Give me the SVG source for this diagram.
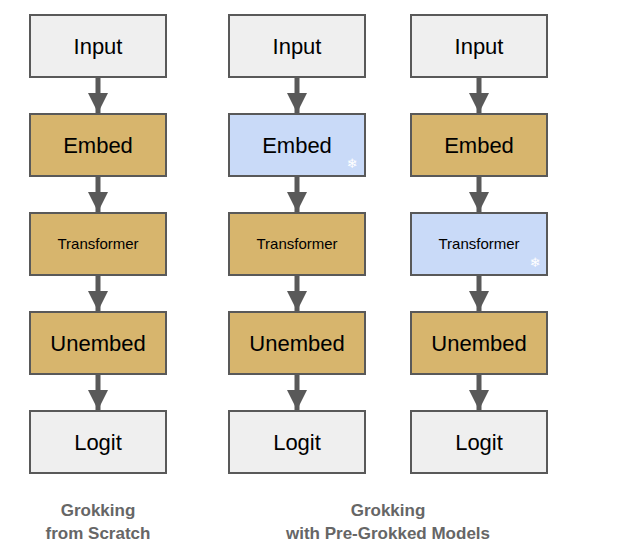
<svg xmlns="http://www.w3.org/2000/svg" width="621" height="558" viewBox="0 0 621 558">
<style>
.b{stroke:#595959;stroke-width:2}
.g{fill:#efefef}.y{fill:#d7b56d}.l{fill:#c9daf8}
.t{font-family:"Liberation Sans",Arial,sans-serif;fill:#000;text-anchor:middle}
.big{font-size:22px}.sm{font-size:15px}
.c{font-family:"Liberation Sans",Arial,sans-serif;font-weight:bold;font-size:17px;fill:#666;text-anchor:middle}
.s{font-family:"DejaVu Sans",sans-serif;font-size:13px;fill:#fff;text-anchor:middle}
</style>
<defs>
<marker id="a" markerWidth="4" markerHeight="4" refX="4" refY="2" orient="auto" markerUnits="strokeWidth"><path d="M0,0L4,2L0,4z" fill="#595959"/></marker>
</defs>
<g id="connectors" stroke="#595959" stroke-width="5" marker-end="url(#a)">
<line x1="98" y1="77" x2="98" y2="113"/><line x1="98" y1="176" x2="98" y2="212"/><line x1="98" y1="275" x2="98" y2="311"/><line x1="98" y1="374" x2="98" y2="410"/>
<line x1="297" y1="77" x2="297" y2="113"/><line x1="297" y1="176" x2="297" y2="212"/><line x1="297" y1="275" x2="297" y2="311"/><line x1="297" y1="374" x2="297" y2="410"/>
<line x1="479" y1="77" x2="479" y2="113"/><line x1="479" y1="176" x2="479" y2="212"/><line x1="479" y1="275" x2="479" y2="311"/><line x1="479" y1="374" x2="479" y2="410"/>
</g>
<g id="c1-input"><rect class="b g" x="30" y="15" width="136" height="62"/><text class="t big" x="98" y="54">Input</text></g>
<g id="c1-embed"><rect class="b y" x="30" y="114" width="136" height="62"/><text class="t big" x="98" y="153">Embed</text></g>
<g id="c1-transformer"><rect class="b y" x="30" y="213" width="136" height="62"/><text class="t sm" x="98" y="249">Transformer</text></g>
<g id="c1-unembed"><rect class="b y" x="30" y="312" width="136" height="62"/><text class="t big" x="98" y="351">Unembed</text></g>
<g id="c1-logit"><rect class="b g" x="30" y="411" width="136" height="62"/><text class="t big" x="98" y="450">Logit</text></g>
<g id="c2-input"><rect class="b g" x="229" y="15" width="136" height="62"/><text class="t big" x="297" y="54">Input</text></g>
<g id="c2-embed"><rect class="b l" x="229" y="114" width="136" height="62"/><text class="t big" x="297" y="153">Embed</text><text class="s" x="352" y="168">❄</text></g>
<g id="c2-transformer"><rect class="b y" x="229" y="213" width="136" height="62"/><text class="t sm" x="297" y="249">Transformer</text></g>
<g id="c2-unembed"><rect class="b y" x="229" y="312" width="136" height="62"/><text class="t big" x="297" y="351">Unembed</text></g>
<g id="c2-logit"><rect class="b g" x="229" y="411" width="136" height="62"/><text class="t big" x="297" y="450">Logit</text></g>
<g id="c3-input"><rect class="b g" x="411" y="15" width="136" height="62"/><text class="t big" x="479" y="54">Input</text></g>
<g id="c3-embed"><rect class="b y" x="411" y="114" width="136" height="62"/><text class="t big" x="479" y="153">Embed</text></g>
<g id="c3-transformer"><rect class="b l" x="411" y="213" width="136" height="62"/><text class="t sm" x="479" y="249">Transformer</text><text class="s" x="535" y="267">❄</text></g>
<g id="c3-unembed"><rect class="b y" x="411" y="312" width="136" height="62"/><text class="t big" x="479" y="351">Unembed</text></g>
<g id="c3-logit"><rect class="b g" x="411" y="411" width="136" height="62"/><text class="t big" x="479" y="450">Logit</text></g>
<text class="c" x="98" y="516">Grokking</text><text class="c" x="98" y="539">from Scratch</text>
<text class="c" x="388" y="516">Grokking</text><text class="c" x="388" y="539">with Pre-Grokked Models</text>
</svg>
